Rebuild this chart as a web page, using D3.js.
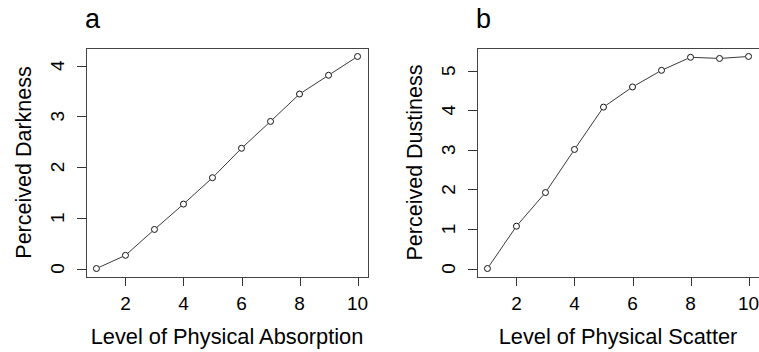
<!DOCTYPE html>
<html>
<head>
<meta charset="utf-8">
<script src="https://cdn.jsdelivr.net/npm/d3@7"></script>
<style>
  body { margin: 0; background: #fff; }
  text { font-family: "Liberation Sans", Arial, sans-serif; fill: #000; }
</style>
</head>
<body>
<svg id="chart" width="759" height="352"></svg>
<script>
// levels 1..10 on both panels
var levels = [1, 2, 3, 4, 5, 6, 7, 8, 9, 10];
var darkness = [0, 0.26, 0.77, 1.27, 1.79, 2.37, 2.90, 3.44, 3.81, 4.18];
var dustiness = [0, 1.07, 1.92, 3.01, 4.08, 4.59, 5.01, 5.34, 5.31, 5.36];
var xTicks = [2, 4, 6, 8, 10];
var darkTicks = [0, 1, 2, 3, 4];
var dustTicks = [0, 1, 2, 3, 4, 5];

var svg = d3.select("#chart");

// R style: pad the data range by 4% each side
function pad(ext) {
	var d = (ext[1] - ext[0]) * 0.04;
	return [ext[0] - d, ext[1] + d];
}

function panel(opt) {
	var g = svg.append("g");
	var x = d3.scaleLinear().domain(pad(d3.extent(levels))).range([opt.left, opt.right]);
	var y = d3.scaleLinear().domain(pad(d3.extent(opt.values))).range([opt.bottom, opt.top]);

	// box
	g.append("rect")
		.attr("x", opt.left + 0.5).attr("y", opt.top + 0.5)
		.attr("width", opt.right - opt.left).attr("height", opt.bottom - opt.top)
		.attr("fill", "none").attr("stroke", "#444").attr("stroke-width", 1);

	// x ticks
	g.selectAll(".xt").data(xTicks).enter().append("line")
		.attr("x1", function(d) { return Math.round(x(d)) + 0.5; })
		.attr("x2", function(d) { return Math.round(x(d)) + 0.5; })
		.attr("y1", opt.bottom + 0.5).attr("y2", opt.bottom + 9)
		.attr("stroke", "#333");
	g.selectAll(".xl").data(xTicks).enter().append("text")
		.attr("x", function(d) { return x(d); })
		.attr("y", 309.5)
		.attr("text-anchor", "middle")
		.style("font-size", "19px")
		.text(function(d) { return d; });

	// y ticks
	g.selectAll(".yt").data(opt.ticks).enter().append("line")
		.attr("y1", function(d) { return Math.round(y(d)) + 0.5; })
		.attr("y2", function(d) { return Math.round(y(d)) + 0.5; })
		.attr("x1", opt.left + 0.5).attr("x2", opt.left - 9)
		.attr("stroke", "#333");
	g.selectAll(".yl").data(opt.ticks).enter().append("text")
		.attr("transform", function(d) { return "translate(" + (opt.left - 22.5) + "," + y(d) + ") rotate(-90)"; })
		.attr("text-anchor", "middle")
		.style("font-size", "19px")
		.text(function(d) { return d; });

	// axis titles
	g.append("text")
		.attr("x", (opt.left + opt.right) / 2).attr("y", 344)
		.attr("text-anchor", "middle")
		.style("font-size", "21.8px")
		.text(opt.xTitle);
	g.append("text")
		.attr("transform", "translate(" + (opt.left - 55) + "," + ((opt.top + opt.bottom) / 2) + ") rotate(-90)")
		.attr("text-anchor", "middle")
		.style("font-size", "21.5px")
		.text(opt.yTitle);

	// panel letter
	g.append("text")
		.attr("x", opt.left - 1).attr("y", 28)
		.style("font-size", "27px")
		.text(opt.letter);

	// type="b": segments with small gaps around the points
	var pts = levels.map(function(l, i) { return [x(l), y(opt.values[i])]; });
	var gap = 3.4;
	for (var i = 0; i < pts.length - 1; i++) {
		var a = pts[i], b = pts[i + 1];
		var dx = b[0] - a[0], dy = b[1] - a[1];
		var len = Math.sqrt(dx * dx + dy * dy);
		if (len <= 2 * gap) continue;
		var ux = dx / len, uy = dy / len;
		g.append("line")
			.attr("x1", a[0] + ux * gap).attr("y1", a[1] + uy * gap)
			.attr("x2", b[0] - ux * gap).attr("y2", b[1] - uy * gap)
			.attr("stroke", "#3a3a3a").attr("stroke-width", 1);
	}

	g.selectAll(".pt").data(levels).enter().append("circle")
		.attr("cx", function(d) { return x(d); })
		.attr("cy", function(d, i) { return y(opt.values[i]); })
		.attr("r", 3)
		.attr("fill", "none").attr("stroke", "#111").attr("stroke-width", 1);
}

panel({ left: 86, right: 368, top: 48, bottom: 277, values: darkness, ticks: darkTicks,
	xTitle: "Level of Physical Absorption", yTitle: "Perceived Darkness", letter: "a" });
panel({ left: 477, right: 759, top: 48, bottom: 277, values: dustiness, ticks: dustTicks,
	xTitle: "Level of Physical Scatter", yTitle: "Perceived Dustiness", letter: "b" });
</script>
</body>
</html>
